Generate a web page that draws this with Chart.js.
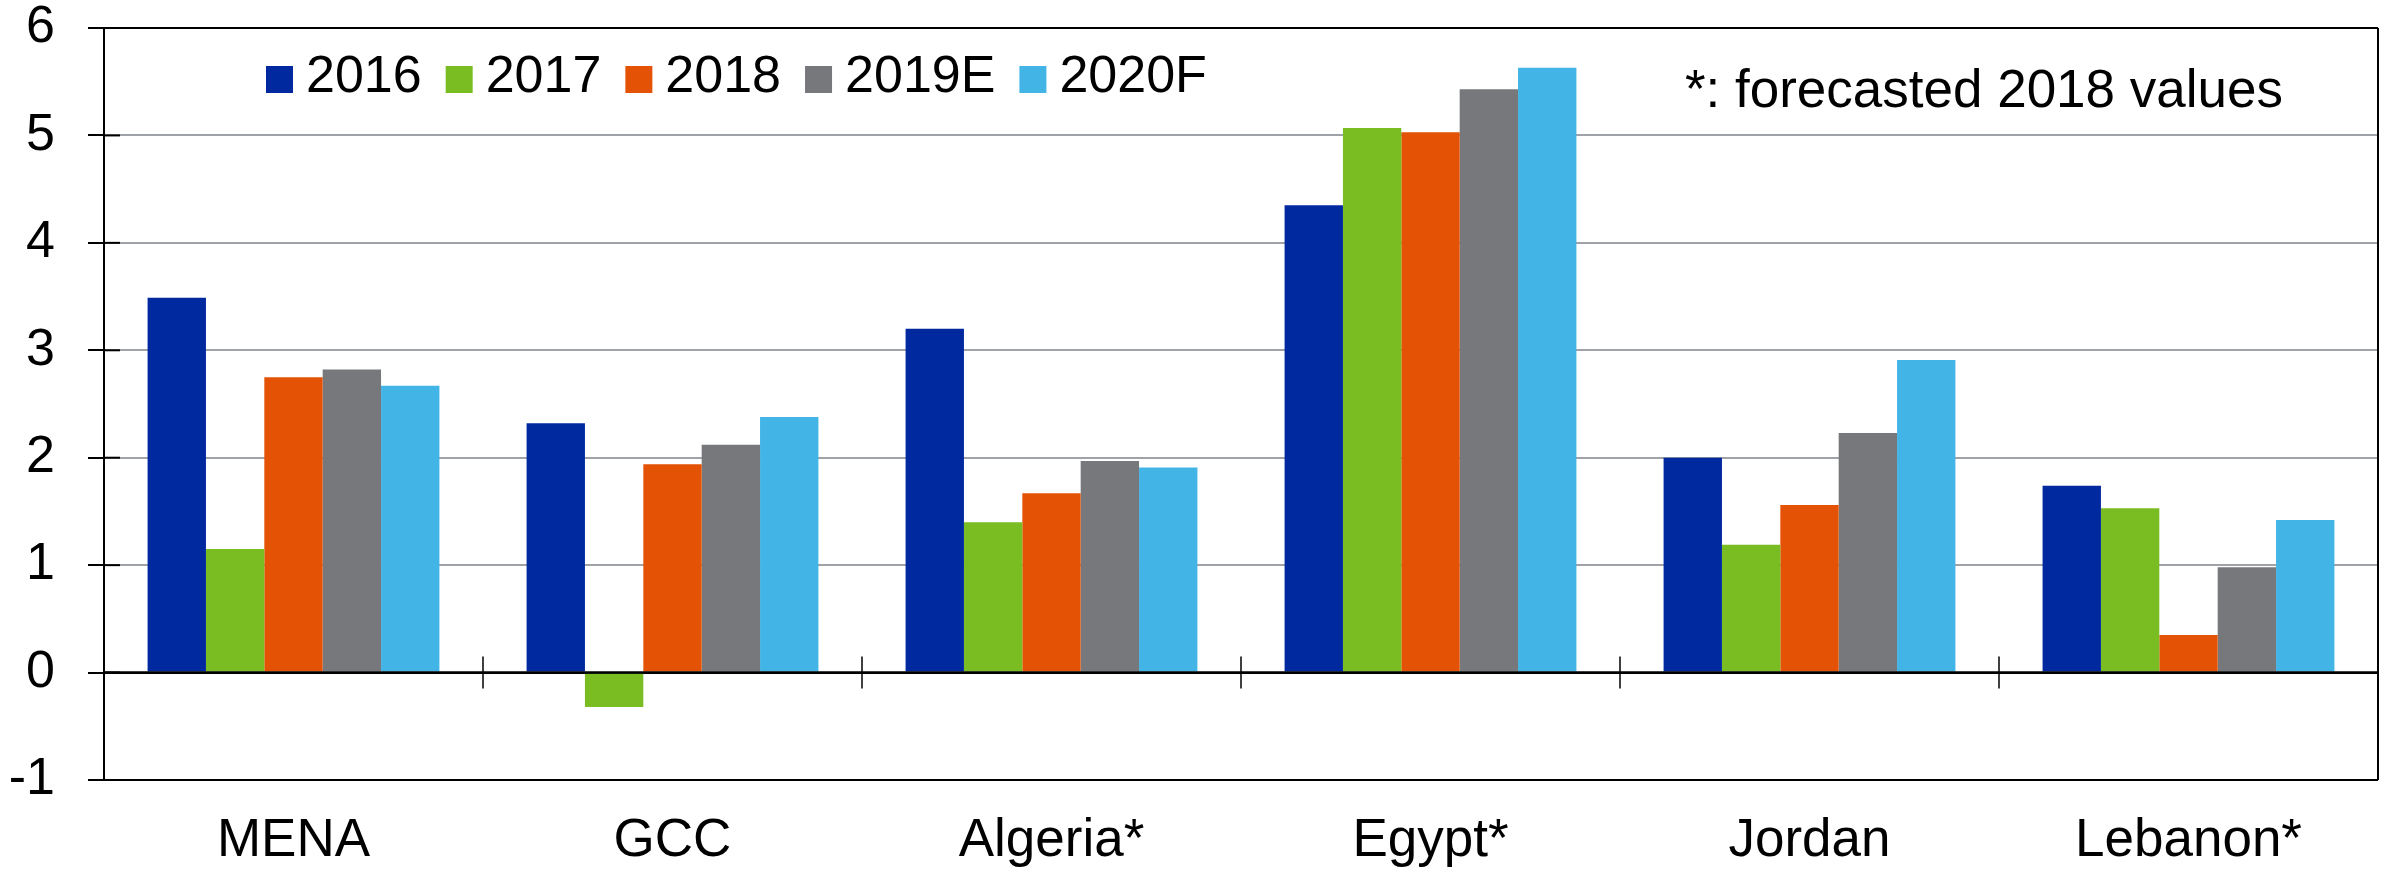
<!DOCTYPE html>
<html>
<head>
<meta charset="utf-8">
<script src="https://cdn.jsdelivr.net/npm/chart.js@4.4.0/dist/chart.umd.min.js"></script>
<style>
  html, body { margin: 0; padding: 0; background: #ffffff; }
  canvas { display: block; }
</style>
</head>
<body>
<canvas id="c" width="2395" height="872"></canvas>
<script>
const categories = ['MENA', 'GCC', 'Algeria*', 'Egypt*', 'Jordan', 'Lebanon*'];
const seriesNames = ['2016', '2017', '2018', '2019E', '2020F'];
const values2016  = [3.49, 2.32, 3.20, 4.35, 2.00, 1.74];
const values2017  = [1.15, -0.32, 1.40, 5.07, 1.19, 1.53];
const values2018  = [2.75, 1.94, 1.67, 5.03, 1.56, 0.35];
const values2019E = [2.82, 2.12, 1.97, 5.43, 2.23, 0.98];
const values2020F = [2.67, 2.38, 1.91, 5.63, 2.91, 1.42];
const yMin = -1, yMax = 6, yStep = 1;
const noteText = '*: forecasted 2018 values';

const colors = ['#0029A0', '#79BD23', '#E35205', '#76787B', '#42B5E6'];
const seriesValues = [values2016, values2017, values2018, values2019E, values2020F];
const FONT = '"Liberation Sans", Arial, Helvetica, sans-serif';

const datasets = seriesNames.map((n, i) => ({
  label: n,
  data: seriesValues[i],
  backgroundColor: colors[i],
  borderWidth: 0,
  categoryPercentage: 0.77,
  barPercentage: 1.0
}));

const decorPlugin = {
  id: 'decor',
  afterDraw(chart) {
    const ctx = chart.ctx;
    const area = chart.chartArea;
    const ys = chart.scales.y;
    const xs = chart.scales.x;
    ctx.save();
    ctx.strokeStyle = '#000';
    ctx.lineWidth = 2;
    ctx.beginPath();
    ctx.moveTo(area.right, area.top);
    ctx.lineTo(area.right, area.bottom);
    ctx.stroke();
    for (let v = yMin; v <= yMax; v += yStep) {
      const y = ys.getPixelForValue(v);
      ctx.beginPath();
      ctx.moveTo(area.left, y);
      ctx.lineTo(area.left + 16, y);
      ctx.stroke();
    }
    const y0 = ys.getPixelForValue(0);
    ctx.lineWidth = 2.5;
    ctx.beginPath();
    ctx.moveTo(area.left, y0);
    ctx.lineTo(area.right, y0);
    ctx.stroke();
    ctx.lineWidth = 1.5;
    for (let i = 1; i < categories.length; i++) {
      const x = (xs.getPixelForTick(i - 1) + xs.getPixelForTick(i)) / 2;
      ctx.beginPath();
      ctx.moveTo(x, y0 - 16);
      ctx.lineTo(x, y0 + 16);
      ctx.stroke();
    }
    ctx.font = '52px ' + FONT;
    ctx.textBaseline = 'middle';
    ctx.textAlign = 'left';
    let x = 266;
    const boxTop = 66, boxSize = 27;
    chart.data.datasets.forEach(ds => {
      ctx.fillStyle = ds.backgroundColor;
      ctx.fillRect(x, boxTop, boxSize, boxSize);
      x += boxSize + 13;
      ctx.fillStyle = '#000';
      ctx.fillText(ds.label, x, 78);
      x += ctx.measureText(ds.label).width + 24;
    });
    ctx.font = '53px ' + FONT;
    ctx.textAlign = 'right';
    ctx.textBaseline = 'alphabetic';
    ctx.fillText(noteText, 2283, 107);
    ctx.restore();
  }
};

new Chart(document.getElementById('c'), {
  type: 'bar',
  data: { labels: categories, datasets },
  options: {
    responsive: false,
    animation: false,
    layout: { padding: { left: 0, right: 17, top: 28, bottom: 0 } },
    plugins: { legend: { display: false }, tooltip: { enabled: false } },
    scales: {
      x: {
        grid: { display: false, drawTicks: false },
        border: { display: false },
        ticks: { color: '#000', font: { family: FONT, size: 53 }, padding: 30, maxRotation: 0 },
        afterFit(scale) { scale.height = 92; scale.paddingLeft = 0; scale.paddingRight = 0; }
      },
      y: {
        min: yMin, max: yMax,
        ticks: { stepSize: yStep, color: '#000', font: { family: FONT, size: 52 }, padding: 33 },
        grid: {
          color: c => ([yMin, 0, yMax].includes(c.tick.value) ? '#000' : '#9fa2a6'),
          lineWidth: 2,
          tickColor: '#000',
          tickLength: 16,
          tickWidth: 2
        },
        border: { display: true, color: '#000', width: 2 },
        afterFit(scale) { scale.width = 104; scale.paddingTop = 0; scale.paddingBottom = 0; }
      }
    }
  },
  plugins: [decorPlugin]
});
</script>
</body>
</html>
